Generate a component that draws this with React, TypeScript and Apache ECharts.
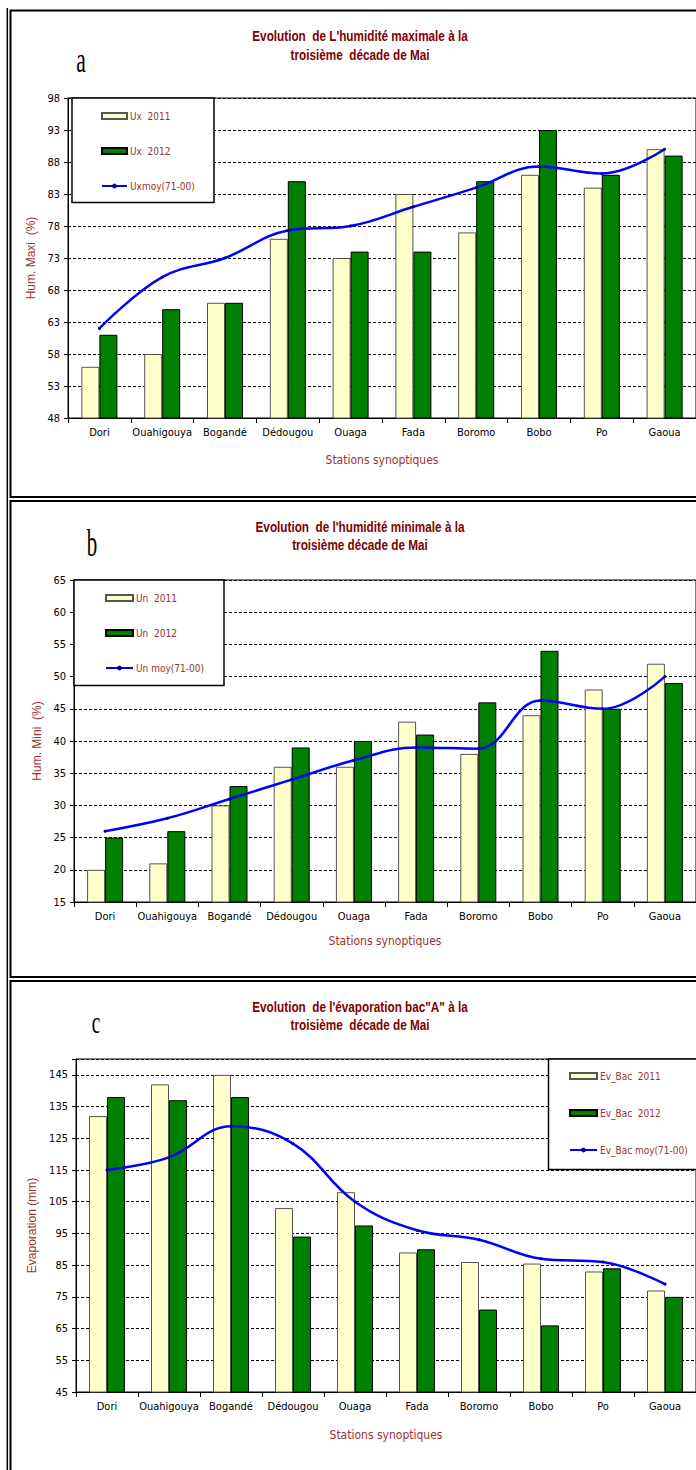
import React, { useEffect, useRef } from "react";
import * as echarts from "echarts";

const stations = ["Dori", "Ouahigouya", "Bogandé", "Dédougou", "Ouaga", "Fada", "Boromo", "Bobo", "Po", "Gaoua"];

const ux2011 = [56, 58, 66, 76, 73, 83, 77, 86, 84, 90];
const ux2012 = [61, 65, 66, 85, 74, 74, 85, 93, 86, 89];
const uxMoy = [62, 70, 73, 77.3, 78, 81, 84, 87.3, 86.2, 90];

const un2011 = [20, 21, 30, 36, 36, 43, 38, 44, 48, 52];
const un2012 = [25, 26, 33, 39, 40, 41, 46, 54, 45, 49];
const unMoy = [26, 28, 31, 34, 37, 39, 38.8, 46.3, 45, 50];

const ev2011 = [132, 142, 145, 103, 108, 89, 86, 85.5, 83, 77];
const ev2012 = [138, 137, 138, 94, 97.5, 90, 71, 66, 84, 75];
const evMoy = [115, 119, 128.8, 123.3, 105, 96, 93, 87, 86, 79];

const NARROW = "'Liberation Sans Narrow', 'Arial Narrow', 'DejaVu Sans Condensed', sans-serif";
const SANS = "'Liberation Sans', Arial, sans-serif";
const TITLE_RED = "#800000";
const LABEL_RED = "#993333";

export default function App() {
  const ref = useRef<HTMLDivElement>(null);

  useEffect(() => {
    document.body.style.margin = "0";
    const chart = echarts.init(ref.current!, null, { renderer: "svg" });

    const panels = [
      { top: 98, left: 68, width: 630, height: 320, min: 48, max: 98, interval: 5, yName: "Hum. Maxi  (%)", yGap: 27, xGap: 36 },
      { top: 580, left: 74, width: 627, height: 322, min: 15, max: 65, interval: 5, yName: "Hum. Mini  (%)", yGap: 30, xGap: 33 },
      { top: 1059, left: 76, width: 625, height: 333, min: 45, max: 150, interval: 10, yName: "Evaporation (mm)", yGap: 35, xGap: 37 },
    ];

    const grids = panels.map((p) => ({
      left: p.left, top: p.top, width: p.width, height: p.height,
      show: true, borderColor: "#000", borderWidth: 1, backgroundColor: "transparent",
    }));

    const xAxes = panels.map((p, i) => ({
      type: "category", gridIndex: i, data: stations,
      axisLine: { show: true, lineStyle: { color: "#000", width: 1 } },
      axisTick: { show: true, length: 5, alignWithLabel: false, interval: 0, lineStyle: { color: "#000" } },
      axisLabel: { interval: 0, color: "#000", fontSize: 11, fontFamily: NARROW, margin: 9 },
      name: "Stations synoptiques", nameLocation: "middle", nameGap: p.xGap,
      nameTextStyle: { color: LABEL_RED, fontSize: 12, fontFamily: NARROW },
    }));

    const yAxes = panels.map((p, i) => ({
      type: "value", gridIndex: i, min: p.min, max: p.max, interval: p.interval,
      axisLine: { show: true, lineStyle: { color: "#000", width: 1 } },
      axisTick: { show: true, length: 4, inside: false, lineStyle: { color: "#000" } },
      axisLabel: {
        color: "#000", fontSize: 11, fontFamily: NARROW, margin: 8,
        formatter: (v: number) => (i === 2 && v === 150 ? "" : String(v)),
      },
      splitLine: { show: true, lineStyle: { color: "#000", width: 1, type: [3, 2] } },
      name: p.yName, nameLocation: "middle", nameGap: p.yGap, nameRotate: 90,
      nameTextStyle: { color: LABEL_RED, fontSize: 12, fontFamily: SANS },
    }));

    const sets = [
      { names: ["Ux  2011", "Ux  2012", "Uxmoy(71-00)"], data: [ux2011, ux2012, uxMoy] },
      { names: ["Un  2011", "Un  2012", "Un moy(71-00)"], data: [un2011, un2012, unMoy] },
      { names: ["Ev_Bac  2011", "Ev_Bac  2012", "Ev_Bac moy(71-00)"], data: [ev2011, ev2012, evMoy] },
    ];

    const series: any[] = [];
    sets.forEach((s, i) => {
      series.push({
        type: "bar", name: s.names[0], xAxisIndex: i, yAxisIndex: i, data: s.data[0],
        barWidth: 18, barGap: "0%",
        itemStyle: { color: "#FFFFCC", borderColor: "#555", borderWidth: 1 },
      });
      series.push({
        type: "bar", name: s.names[1], xAxisIndex: i, yAxisIndex: i, data: s.data[1],
        barWidth: 18, barGap: "0%",
        itemStyle: { color: "#008000", borderColor: "#000", borderWidth: 1 },
      });
      series.push({
        type: "line", name: s.names[2], xAxisIndex: i, yAxisIndex: i, data: s.data[2],
        smooth: 0.4, symbol: "circle", symbolSize: 3, showSymbol: true, z: 5,
        lineStyle: { color: "#0000FF", width: 2.5 },
        itemStyle: { color: "#000080" },
      });
    });

    const legendPos = [
      { left: 101, top: 109, gap: 21, w: 25 },
      { left: 105, top: 591, gap: 21, w: 27 },
      { left: 569, top: 1069, gap: 23, w: 27 },
    ];
    const legends = sets.map((s, i) => ({
      orient: "vertical", left: legendPos[i].left, top: legendPos[i].top,
      itemGap: legendPos[i].gap, itemWidth: legendPos[i].w, itemHeight: 6, padding: 0, z: 20,
      textStyle: { color: LABEL_RED, fontSize: 10, fontFamily: NARROW, lineHeight: 14, padding: [0, 0, 0, -2] },
      data: [
        { name: s.names[0], icon: "rect" },
        { name: s.names[1], icon: "rect" },
        { name: s.names[2] },
      ],
    }));

    const titleText = (t: string, y: number) => ({
      type: "text", x: 360, y, z: 10, scaleX: 0.84,
      style: { text: t, textAlign: "center", textVerticalAlign: "middle", fontSize: 14, fontWeight: "bold", fontFamily: SANS, fill: TITLE_RED },
    });

    const letter = (t: string, x: number, y: number, family: string, size: number, sx: number) => ({
      type: "text", x, y, scaleX: sx, z: 10,
      style: { text: t, textAlign: "center", textVerticalAlign: "middle", fontSize: size, fontFamily: family, fill: "#000" },
    });

    const graphic: any[] = [
      { type: "line", z: 10, shape: { x1: 7.3, y1: 8, x2: 7.3, y2: 1470 }, style: { stroke: "#000", lineWidth: 1.5 } },
      { type: "rect", z: 10, shape: { x: 10.5, y: 10.5, width: 720, height: 486.5 }, style: { fill: "none", stroke: "#000", lineWidth: 2 } },
      { type: "rect", z: 10, shape: { x: 10.5, y: 501, width: 720, height: 476 }, style: { fill: "none", stroke: "#000", lineWidth: 2 } },
      { type: "rect", z: 10, shape: { x: 10.5, y: 981, width: 720, height: 520 }, style: { fill: "none", stroke: "#000", lineWidth: 2 } },
      { type: "rect", z: 15, shape: { x: 72, y: 98, width: 142, height: 104.5 }, style: { fill: "#fff", stroke: "#000", lineWidth: 1.5 } },
      { type: "rect", z: 15, shape: { x: 74, y: 580, width: 150, height: 105.5 }, style: { fill: "#fff", stroke: "#000", lineWidth: 1.5 } },
      { type: "rect", z: 15, shape: { x: 548.5, y: 1059, width: 200, height: 110.5 }, style: { fill: "#fff", stroke: "#000", lineWidth: 1.5 } },
      titleText("Evolution  de L'humidité maximale à la", 36.5),
      titleText("troisième  décade de Mai", 55),
      titleText("Evolution  de l'humidité minimale à la", 527),
      titleText("troisième décade de Mai", 545),
      titleText("Evolution  de l'évaporation bac\"A\" à la", 1007),
      titleText("troisième  décade de Mai", 1025),
      letter("a", 81, 60, "'Liberation Serif', serif", 36, 0.6),
      letter("b", 92, 544, "'Liberation Serif', serif", 38, 0.55),
      letter("c", 96, 1022, "'Liberation Serif', serif", 32, 0.6),
    ];

    chart.setOption({
      animation: false,
      backgroundColor: "#fff",
      textStyle: { fontFamily: NARROW },
      grid: grids,
      xAxis: xAxes,
      yAxis: yAxes,
      legend: legends,
      series,
      graphic,
    });

    return () => chart.dispose();
  }, []);

  return <div ref={ref} style={{ width: 696, height: 1470 }} />;
}
